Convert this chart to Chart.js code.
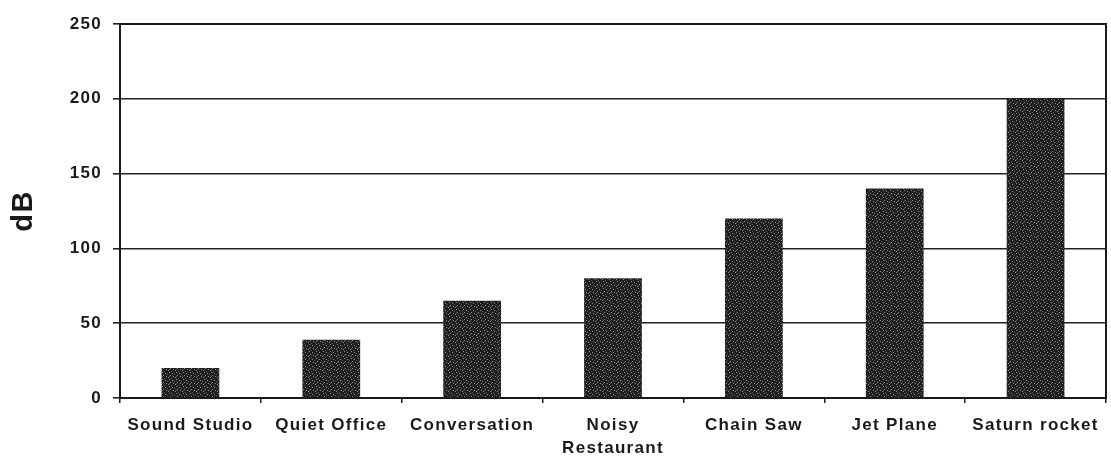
<!DOCTYPE html>
<html>
<head>
<meta charset="utf-8">
<script src="https://cdn.jsdelivr.net/npm/chart.js@4.4.1/dist/chart.umd.min.js"></script>
<style>
  html, body { margin: 0; padding: 0; background: #fff; }
  #wrap { width: 1111px; height: 457px; position: relative; }
</style>
</head>
<body>
<div id="wrap"><canvas id="soundChart"></canvas></div>
<script>
// === Data ===
const categories = [
  "Sound Studio",
  "Quiet Office",
  "Conversation",
  ["Noisy", "Restaurant"],
  "Chain Saw",
  "Jet Plane",
  "Saturn rocket",
];
const dbValues = [20, 39, 65, 80, 120, 140, 200];
const yTicks = [0, 50, 100, 150, 200, 250];

// stippled dark fill, like the scanned bars
function makeStipple() {
  const c = document.createElement("canvas");
  c.width = 7;
  c.height = 7;
  const g = c.getContext("2d");
  g.fillStyle = "#1f1f1f";
  g.fillRect(0, 0, 7, 7);
  g.fillStyle = "#8a8a8a";
  [[1, 1], [4, 2], [2, 4], [5, 5], [0, 6]].forEach(([x, y]) => g.fillRect(x, y, 1, 1));
  g.fillStyle = "#555";
  [[3, 0], [6, 3], [1, 5]].forEach(([x, y]) => g.fillRect(x, y, 1, 1));
  return g.createPattern(c, "repeat");
}

// border round the plot area + wider letter spacing for labels
const frame = {
  id: "frame",
  beforeDraw(chart) {
    chart.ctx.letterSpacing = "1.3px";
  },
  afterDraw(chart) {
    const { ctx, chartArea: a } = chart;
    ctx.save();
    ctx.strokeStyle = "#1a1a1a";
    ctx.lineWidth = 2;
    ctx.strokeRect(a.left, a.top, a.right - a.left, a.bottom - a.top);
    ctx.restore();
  },
};

const font = { family: "Arial, 'Liberation Sans', sans-serif", size: 17, weight: "bold", lineHeight: 1.4 };

new Chart(document.getElementById("soundChart"), {
  type: "bar",
  data: {
    labels: categories,
    datasets: [
      {
        data: dbValues,
        backgroundColor: makeStipple(),
        borderWidth: 0,
        barPercentage: 0.41,
        categoryPercentage: 1,
      },
    ],
  },
  options: {
    responsive: true,
    maintainAspectRatio: false,
    animation: false,
    layout: { padding: { top: 24, right: 5, left: 0, bottom: 0 } },
    plugins: { legend: { display: false }, tooltip: { enabled: false } },
    scales: {
      x: {
        grid: { drawOnChartArea: false, tickLength: 5, color: "#1a1a1a", lineWidth: 1.5 },
        border: { color: "#1a1a1a", width: 2 },
        ticks: { color: "#1a1a1a", font, padding: 10, maxRotation: 0, autoSkip: false },
        afterFit: (s) => { s.height = 59; },
      },
      y: {
        min: 0,
        max: 250,
        afterBuildTicks: (s) => { s.ticks = yTicks.map((v) => ({ value: v })); },
        grid: { color: "#222", lineWidth: 1.6, tickLength: 7 },
        border: { color: "#1a1a1a", width: 2 },
        ticks: { color: "#1a1a1a", font, padding: 11 },
        title: {
          display: true,
          text: "dB",
          color: "#1a1a1a",
          font: { family: "Arial, 'Liberation Sans', sans-serif", size: 29, weight: "bold" },
          padding: { top: 7, bottom: 0 },
        },
        afterFit: (s) => { s.width = 120; },
      },
    },
  },
  plugins: [frame],
});
</script>
</body>
</html>
